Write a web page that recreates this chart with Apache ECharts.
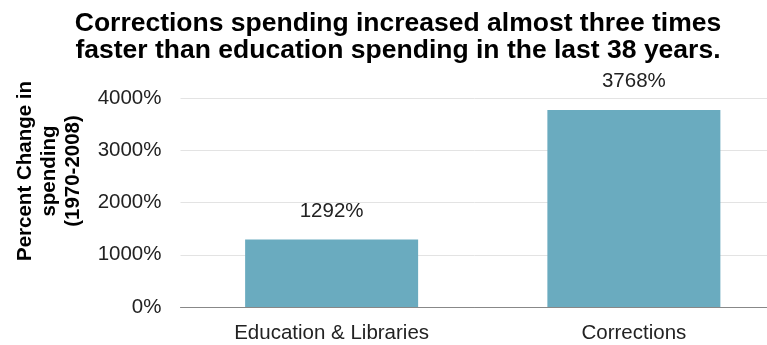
<!DOCTYPE html>
<html>
<head>
<meta charset="utf-8">
<script src="https://cdn.jsdelivr.net/npm/echarts@6/dist/echarts.min.js"></script>
<style>
  html, body { margin: 0; padding: 0; background: #fff; }
  #chart { width: 767px; height: 345px; }
</style>
</head>
<body>
<div id="chart"></div>
<script>
// data
const categories = ['Education & Libraries', 'Corrections']
const values = [1292, 3768]
const yTicks = [0, 1000, 2000, 3000, 4000]

const chart = echarts.init(document.getElementById('chart'))
chart.setOption({
  animation: false,
  textStyle: { fontFamily: 'Liberation Sans, Arial, sans-serif' },
  title: {
    text: 'Corrections spending increased almost three times\nfaster than education spending in the last 38 years.',
    left: 393,
    top: 5,
    textAlign: 'center',
    textStyle: { fontSize: 26.5, fontWeight: 'bold', color: '#000', lineHeight: 27 }
  },
  // y axis title, three lines, rotated
  graphic: [{
    type: 'text',
    x: 49,
    y: 171,
    rotation: Math.PI / 2,
    style: {
      text: 'Percent Change in\nspending\n(1970-2008)',
      font: 'bold 20.5px Liberation Sans, Arial, sans-serif',
      fill: '#000',
      align: 'center',
      verticalAlign: 'middle',
      lineHeight: 24
    }
  }],
  // plot runs past the right edge, so the second band is cut off
  grid: { left: 180.5, right: -18, top: 98, bottom: 38, outerBoundsMode: 'none' },
  xAxis: {
    type: 'category',
    data: categories,
    axisLine: { lineStyle: { color: '#888', width: 1 } },
    axisTick: { show: false },
    axisLabel: { color: '#222', fontSize: 20.5, margin: 16 }
  },
  yAxis: {
    type: 'value',
    min: yTicks[0],
    max: yTicks[yTicks.length - 1],
    interval: 1000,
    axisLine: { show: false },
    axisTick: { show: false },
    splitLine: { lineStyle: { color: '#e3e3e3', width: 1 } },
    axisLabel: {
      color: '#222',
      fontSize: 20.5,
      margin: 19,
      formatter: v => v + '%'
    }
  },
  series: [{
    type: 'bar',
    data: values,
    barWidth: 173,
    itemStyle: { color: '#6aabbf' },
    label: {
      show: true,
      position: 'top',
      distance: 18,
      color: '#222',
      fontSize: 20.5,
      formatter: p => p.value + '%'
    }
  }]
})
</script>
</body>
</html>
